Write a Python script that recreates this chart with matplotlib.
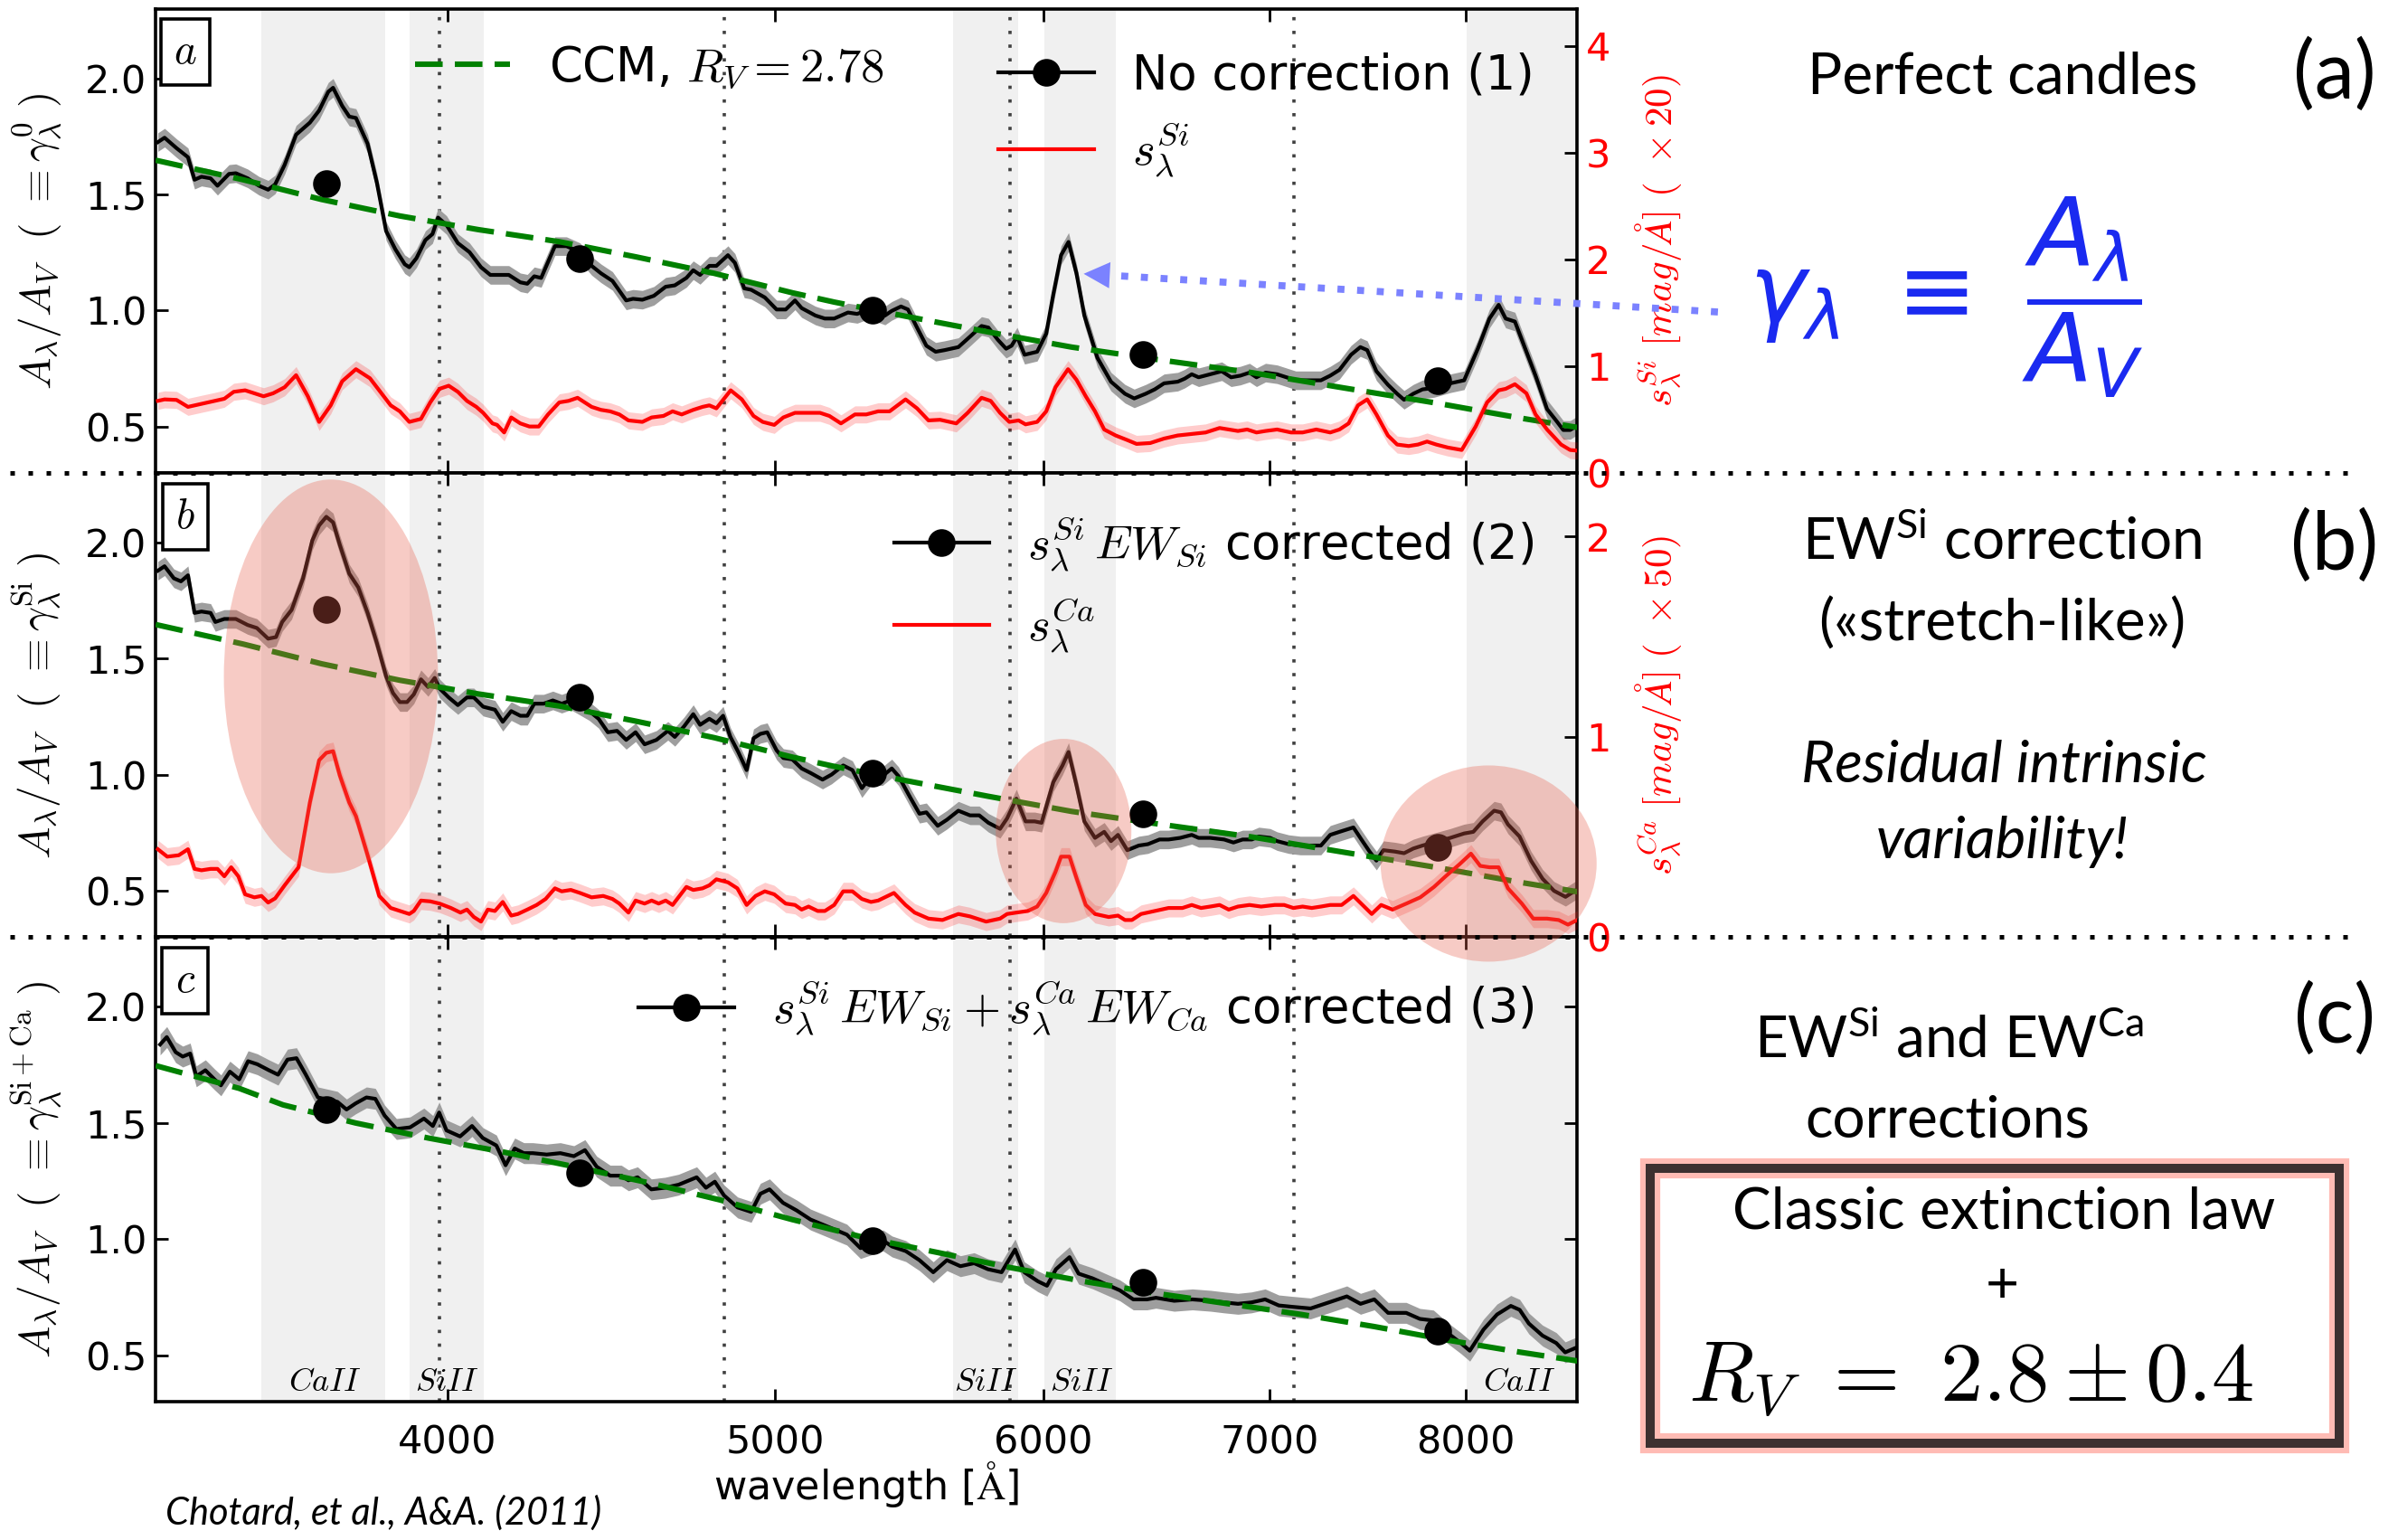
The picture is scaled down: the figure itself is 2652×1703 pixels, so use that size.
import matplotlib
matplotlib.use('Agg')
import numpy as np
import matplotlib.pyplot as plt
from matplotlib.lines import Line2D
from matplotlib.patches import Ellipse, Rectangle, FancyArrowPatch
from matplotlib.ticker import FixedLocator, FixedFormatter, NullLocator

plt.rcParams['font.family'] = ['DejaVu Sans']
plt.rcParams['mathtext.fontset'] = 'cm'
plt.rcParams['mathtext.rm'] = 'Lato'
plt.rcParams['mathtext.it'] = 'Lato:italic'

# ---------------- data (wavelength in Angstrom) ----------------
xticks = [4000, 5000, 6000, 7000, 8000]
yticks = [0.5, 1.0, 1.5, 2.0]
bands = [(3525, 3835), (3900, 4100), (5645, 5900), (6005, 6305), (8005, 8700)]
band_names = ['CaII', 'SiII', 'SiII', 'SiII', 'CaII']
band_label_wl = [3680, 4000, 5770, 6160, 8300]
vlines = [3980, 4830, 5865, 7115]

dot_wl = [3685, 4377, 5343, 6422, 7849]

# panel a : no correction
wl_a = [3285, 3300, 3327, 3353, 3368, 3384, 3405, 3421, 3448, 3464, 3492, 3519, 3541, 3558, 3581,
        3609, 3643, 3666, 3689, 3701, 3724, 3742, 3759, 3789, 3813, 3837, 3861, 3886, 3898, 3917,
        3941, 3960, 3975, 3998, 4029, 4061, 4093, 4119, 4145, 4171, 4204, 4224, 4244, 4264, 4304,
        4338, 4378, 4413, 4441, 4476, 4518, 4539, 4568, 4604, 4641, 4670, 4707, 4729, 4751, 4781,
        4804, 4842, 4865, 4896, 4919, 4965, 5005, 5036, 5068, 5091, 5139, 5172, 5205, 5254, 5287,
        5329, 5388, 5413, 5447, 5473, 5507, 5542, 5577, 5611, 5664, 5709, 5754, 5781, 5818, 5851,
        5873, 5895, 5925, 5976, 6013, 6042, 6074, 6105, 6138, 6171, 6226, 6284, 6344, 6384, 6434,
        6474, 6515, 6576, 6607, 6639, 6670, 6723, 6776, 6819, 6862, 6905, 6938, 6981, 7036, 7081,
        7126, 7170, 7249, 7295, 7341, 7399, 7446, 7481, 7528, 7587, 7635, 7671, 7719, 7768, 7829,
        7916, 7991, 8066, 8130, 8181, 8220, 8272, 8324, 8389, 8455, 8509, 8549, 8589, 8630]
gamma_a = [1.725, 1.744, 1.699, 1.660, 1.563, 1.576, 1.569, 1.537, 1.588, 1.591, 1.569, 1.537, 1.520,
           1.543, 1.627, 1.757, 1.809, 1.861, 1.942, 1.959, 1.881, 1.835, 1.829, 1.718, 1.550, 1.342,
           1.264, 1.199, 1.186, 1.225, 1.303, 1.329, 1.400, 1.368, 1.290, 1.251, 1.186, 1.153, 1.153,
           1.153, 1.121, 1.115, 1.147, 1.140, 1.277, 1.277, 1.251, 1.192, 1.160, 1.127, 1.043, 1.050,
           1.046, 1.063, 1.102, 1.108, 1.140, 1.173, 1.153, 1.192, 1.192, 1.238, 1.205, 1.095, 1.089,
           1.056, 1.004, 1.004, 1.043, 1.010, 0.978, 0.965, 0.965, 0.991, 0.985, 1.004, 0.978, 0.998,
           1.017, 1.004, 0.926, 0.848, 0.822, 0.829, 0.842, 0.887, 0.933, 0.926, 0.874, 0.835, 0.848,
           0.887, 0.809, 0.822, 0.900, 1.069, 1.238, 1.295, 1.160, 0.978, 0.796, 0.693, 0.641, 0.621,
           0.641, 0.660, 0.686, 0.693, 0.706, 0.725, 0.712, 0.725, 0.738, 0.712, 0.719, 0.732, 0.712,
           0.732, 0.725, 0.712, 0.699, 0.699, 0.699, 0.719, 0.744, 0.809, 0.842, 0.829, 0.738, 0.680,
           0.641, 0.615, 0.641, 0.660, 0.666, 0.686, 0.699, 0.835, 0.965, 1.024, 0.965, 0.952, 0.848,
           0.719, 0.575, 0.524, 0.485, 0.485, 0.504]
dots_a = [1.546, 1.225, 1.000, 0.809, 0.699]

wl_si = [3285, 3300, 3327, 3353, 3384, 3416, 3437, 3459, 3486, 3508, 3530, 3553, 3581, 3609, 3638,
         3666, 3695, 3724, 3759, 3795, 3825, 3849, 3873, 3898, 3929, 3954, 3979, 4004, 4029, 4054,
         4080, 4099, 4125, 4138, 4158, 4178, 4204, 4230, 4257, 4284, 4317, 4344, 4371, 4413, 4441,
         4469, 4497, 4525, 4568, 4597, 4634, 4663, 4692, 4729, 4759, 4781, 4804, 4851, 4888, 4927,
         4958, 4997, 5028, 5068, 5115, 5155, 5188, 5229, 5279, 5320, 5363, 5405, 5464, 5507, 5550,
         5594, 5656, 5700, 5754, 5790, 5827, 5864, 5901, 5929, 5976, 6013, 6051, 6103, 6138, 6177,
         6216, 6255, 6304, 6354, 6394, 6454, 6515, 6576, 6639, 6702, 6766, 6808, 6851, 6894, 6938,
         6981, 7036, 7103, 7159, 7226, 7295, 7341, 7387, 7434, 7481, 7528, 7587, 7635, 7695, 7744,
         7792, 7841, 7903, 7978, 8054, 8117, 8181, 8220, 8272, 8337, 8389, 8455, 8536, 8589, 8630]
s_si = [0.675, 0.689, 0.684, 0.619, 0.647, 0.675, 0.695, 0.760, 0.774, 0.746, 0.718, 0.746, 0.803,
        0.916, 0.718, 0.478, 0.633, 0.859, 0.972, 0.887, 0.746, 0.633, 0.577, 0.478, 0.506, 0.661,
        0.788, 0.817, 0.760, 0.675, 0.619, 0.563, 0.464, 0.450, 0.379, 0.520, 0.464, 0.435, 0.435,
        0.548, 0.661, 0.675, 0.704, 0.619, 0.591, 0.577, 0.548, 0.492, 0.478, 0.520, 0.534, 0.577,
        0.548, 0.591, 0.619, 0.633, 0.605, 0.774, 0.689, 0.534, 0.478, 0.450, 0.520, 0.563, 0.563,
        0.563, 0.534, 0.464, 0.548, 0.548, 0.577, 0.577, 0.689, 0.605, 0.492, 0.498, 0.464, 0.563,
        0.704, 0.675, 0.563, 0.478, 0.492, 0.455, 0.478, 0.577, 0.803, 0.972, 0.873, 0.718, 0.577,
        0.407, 0.351, 0.308, 0.272, 0.280, 0.322, 0.351, 0.365, 0.379, 0.421, 0.407, 0.393, 0.407,
        0.379, 0.393, 0.407, 0.379, 0.379, 0.407, 0.379, 0.407, 0.464, 0.633, 0.689, 0.548, 0.351,
        0.266, 0.252, 0.266, 0.294, 0.266, 0.238, 0.215, 0.435, 0.661, 0.774, 0.788, 0.831, 0.746,
        0.548, 0.407, 0.266, 0.215, 0.209]

ccm_wl = [3280, 3481, 3672, 3873, 4086, 4317, 4547, 4796, 5059, 5205, 5464, 5781, 6118, 6474,
          6916, 7364, 7841, 8298, 8640]
ccm_ab = [1.647, 1.563, 1.478, 1.407, 1.348, 1.296, 1.231, 1.160, 1.076, 1.036, 0.975, 0.907,
          0.842, 0.790, 0.732, 0.666, 0.601, 0.537, 0.495]

# panel b : Si corrected
wl_b = [3285, 3300, 3321, 3337, 3353, 3368, 3384, 3405, 3416, 3437, 3464, 3492, 3514, 3541, 3560,
        3575, 3598, 3626, 3649, 3666, 3684, 3701, 3718, 3742, 3765, 3789, 3813, 3837, 3855, 3873,
        3892, 3910, 3929, 3948, 3966, 3979, 4004, 4029, 4054, 4073, 4099, 4132, 4154, 4178, 4204,
        4224, 4244, 4271, 4298, 4324, 4351, 4406, 4434, 4462, 4490, 4518, 4547, 4575, 4612, 4648,
        4670, 4700, 4729, 4751, 4781, 4804, 4826, 4850, 4876, 4904, 4927, 4950, 4973, 5005, 5028,
        5059, 5091, 5123, 5164, 5196, 5237, 5270, 5304, 5337, 5379, 5413, 5438, 5481, 5516, 5542,
        5585, 5620, 5664, 5709, 5745, 5781, 5827, 5855, 5892, 5929, 5966, 5994, 6042, 6080, 6105,
        6138, 6171, 6216, 6255, 6284, 6314, 6354, 6404, 6444, 6495, 6535, 6587, 6639, 6670, 6723,
        6787, 6830, 6873, 6916, 6949, 7003, 7036, 7092, 7148, 7193, 7249, 7295, 7341, 7411, 7457,
        7493, 7528, 7564, 7623, 7671, 7719, 7768, 7916, 7991, 8041, 8092, 8156, 8194, 8233, 8298,
        8363, 8429, 8495, 8562, 8630]
gamma_b = [1.879, 1.898, 1.846, 1.833, 1.859, 1.697, 1.703, 1.697, 1.658, 1.671, 1.671, 1.645, 1.632,
           1.586, 1.593, 1.658, 1.710, 1.846, 2.009, 2.074, 2.111, 2.087, 1.990, 1.866, 1.807, 1.697,
           1.567, 1.424, 1.352, 1.313, 1.313, 1.346, 1.411, 1.378, 1.417, 1.372, 1.333, 1.300, 1.333,
           1.333, 1.293, 1.280, 1.228, 1.274, 1.254, 1.254, 1.306, 1.306, 1.320, 1.306, 1.320, 1.274,
           1.241, 1.183, 1.189, 1.150, 1.183, 1.131, 1.150, 1.189, 1.163, 1.209, 1.261, 1.215, 1.241,
           1.222, 1.254, 1.163, 1.098, 1.020, 1.157, 1.176, 1.183, 1.105, 1.072, 1.066, 1.027, 1.007,
           0.979, 1.001, 1.040, 1.020, 0.942, 0.994, 0.994, 1.027, 0.994, 0.903, 0.832, 0.838, 0.780,
           0.806, 0.845, 0.825, 0.825, 0.793, 0.767, 0.812, 0.897, 0.799, 0.799, 0.793, 0.968, 1.040,
           1.098, 0.955, 0.799, 0.728, 0.754, 0.714, 0.741, 0.675, 0.695, 0.701, 0.721, 0.721, 0.728,
           0.741, 0.728, 0.728, 0.721, 0.708, 0.721, 0.721, 0.734, 0.728, 0.714, 0.701, 0.695, 0.695,
           0.695, 0.741, 0.754, 0.773, 0.714, 0.669, 0.630, 0.675, 0.669, 0.662, 0.682, 0.695, 0.728,
           0.747, 0.754, 0.799, 0.845, 0.838, 0.786, 0.734, 0.630, 0.552, 0.500, 0.474, 0.506]
dots_b = [1.710, 1.333, 1.007, 0.832, 0.688]

wl_ca = [3285, 3306, 3332, 3353, 3368, 3384, 3405, 3421, 3437, 3453, 3470, 3486, 3508, 3525, 3541,
         3558, 3581, 3615, 3643, 3666, 3684, 3701, 3718, 3742, 3759, 3789, 3819, 3849, 3873, 3898,
         3910, 3929, 3954, 3979, 4010, 4036, 4054, 4073, 4093, 4112, 4132, 4154, 4178, 4197, 4224,
         4251, 4277, 4304, 4324, 4351, 4378, 4413, 4448, 4476, 4497, 4525, 4547, 4575, 4597, 4619,
         4641, 4663, 4707, 4729, 4759, 4781, 4804, 4842, 4873, 4904, 4934, 4965, 4997, 5036, 5068,
         5091, 5115, 5147, 5172, 5205, 5237, 5270, 5304, 5337, 5363, 5421, 5464, 5498, 5550, 5603,
         5664, 5709, 5772, 5827, 5855, 5892, 5938, 5976, 6013, 6051, 6074, 6109, 6138, 6177, 6216,
         6274, 6314, 6344, 6374, 6414, 6474, 6535, 6597, 6639, 6681, 6723, 6766, 6808, 6851, 6905,
         6960, 7025, 7070, 7114, 7159, 7204, 7249, 7295, 7352, 7411, 7457, 7504, 7552, 7611, 7683,
         7756, 7829, 7891, 7966, 8028, 8079, 8130, 8181, 8233, 8311, 8376, 8455, 8522, 8576, 8630]
s_ca = [0.439, 0.402, 0.409, 0.439, 0.341, 0.334, 0.341, 0.341, 0.304, 0.349, 0.304, 0.214, 0.199,
        0.206, 0.173, 0.194, 0.259, 0.349, 0.672, 0.883, 0.920, 0.928, 0.807, 0.672, 0.604, 0.409,
        0.206, 0.146, 0.131, 0.116, 0.131, 0.183, 0.179, 0.168, 0.146, 0.123, 0.138, 0.101, 0.078,
        0.138, 0.131, 0.176, 0.108, 0.116, 0.138, 0.161, 0.191, 0.244, 0.229, 0.236, 0.221, 0.199,
        0.206, 0.191, 0.168, 0.123, 0.183, 0.168, 0.183, 0.168, 0.183, 0.161, 0.251, 0.236, 0.244,
        0.259, 0.289, 0.274, 0.244, 0.161, 0.206, 0.229, 0.214, 0.168, 0.161, 0.138, 0.153, 0.131,
        0.131, 0.161, 0.229, 0.229, 0.191, 0.176, 0.183, 0.221, 0.161, 0.123, 0.093, 0.086, 0.116,
        0.104, 0.078, 0.093, 0.116, 0.123, 0.131, 0.153, 0.221, 0.326, 0.402, 0.402, 0.296, 0.161,
        0.116, 0.101, 0.108, 0.086, 0.086, 0.116, 0.131, 0.146, 0.146, 0.161, 0.146, 0.153, 0.161,
        0.138, 0.153, 0.161, 0.153, 0.161, 0.161, 0.146, 0.153, 0.146, 0.153, 0.161, 0.161, 0.206,
        0.161, 0.116, 0.161, 0.138, 0.168, 0.199, 0.251, 0.304, 0.364, 0.417, 0.356, 0.349, 0.349,
        0.244, 0.168, 0.093, 0.093, 0.086, 0.063, 0.086]

# panel c : Si + Ca corrected
wl_c = [3290, 3305, 3325, 3341, 3358, 3372, 3393, 3414, 3429, 3450, 3472, 3493, 3515, 3543, 3565,
        3588, 3610, 3633, 3663, 3712, 3735, 3758, 3786, 3809, 3833, 3864, 3900, 3937, 3961, 3978,
        3998, 4035, 4068, 4098, 4136, 4162, 4188, 4214, 4240, 4280, 4320, 4360, 4393, 4428, 4469,
        4503, 4525, 4553, 4596, 4639, 4682, 4740, 4770, 4799, 4829, 4874, 4919, 4950, 4981, 5027,
        5074, 5122, 5185, 5250, 5299, 5381, 5414, 5465, 5516, 5568, 5620, 5672, 5725, 5779, 5833,
        5887, 5924, 5979, 6016, 6053, 6109, 6147, 6205, 6263, 6322, 6380, 6440, 6479, 6560, 6642,
        6725, 6787, 6851, 6914, 6979, 7044, 7110, 7198, 7288, 7378, 7447, 7517, 7588, 7682, 7754,
        7826, 7899, 7973, 8022, 8097, 8172, 8249, 8299, 8351, 8429, 8508, 8560, 8624]
gamma_c = [1.838, 1.870, 1.805, 1.786, 1.799, 1.701, 1.727, 1.688, 1.662, 1.721, 1.688, 1.766, 1.753,
           1.727, 1.708, 1.773, 1.779, 1.708, 1.610, 1.591, 1.558, 1.584, 1.610, 1.604, 1.532, 1.474,
           1.481, 1.519, 1.487, 1.545, 1.468, 1.442, 1.487, 1.435, 1.403, 1.318, 1.390, 1.370, 1.370,
           1.364, 1.370, 1.357, 1.383, 1.312, 1.273, 1.273, 1.253, 1.266, 1.214, 1.221, 1.234, 1.266,
           1.221, 1.247, 1.188, 1.136, 1.117, 1.195, 1.214, 1.156, 1.123, 1.084, 1.052, 1.019, 0.961,
           0.994, 0.968, 0.948, 0.909, 0.857, 0.909, 0.883, 0.896, 0.870, 0.857, 0.955, 0.857, 0.818,
           0.799, 0.870, 0.922, 0.851, 0.831, 0.805, 0.779, 0.740, 0.740, 0.747, 0.734, 0.740, 0.734,
           0.727, 0.721, 0.727, 0.740, 0.714, 0.708, 0.701, 0.727, 0.753, 0.721, 0.740, 0.682, 0.682,
           0.656, 0.649, 0.597, 0.552, 0.519, 0.610, 0.675, 0.712, 0.695, 0.636, 0.584, 0.552, 0.512,
           0.532]
dots_c = [1.558, 1.286, 0.994, 0.812, 0.604]

ccm_c_wl = [3280, 3472, 3577, 3758, 3949, 4149, 4360, 4596, 4814, 5058, 5315, 5585, 5869, 6167,
            6479, 6808, 7154, 7517, 7899, 8299, 8640]
ccm_c = [1.747, 1.649, 1.578, 1.500, 1.435, 1.377, 1.312, 1.240, 1.169, 1.084, 1.006, 0.942, 0.877,
         0.818, 0.766, 0.721, 0.675, 0.623, 0.565, 0.513, 0.474]

# ---------------- figure ----------------
fig = plt.figure(figsize=(13.26, 8.515), dpi=200)
L, W, H = 0.0649, 0.5928, 0.3015
bottoms = [0.6929, 0.3914, 0.0899]

ylabels = [r'$A_\lambda/A_V\ \ (\ \equiv\gamma_\lambda^0\ )$',
           r'$A_\lambda/A_V\ \ (\ \equiv\gamma_\lambda^{\rm Si}\ )$',
           r'$A_\lambda/A_V\ \ (\ \equiv\gamma_\lambda^{\rm Si+Ca}\ )$']

GREEN_DASH = dict(color='green', lw=2.2, dashes=(5, 2.2))


def make_panel(bottom, letter, ylab, wl, g, gerr, dots, cwl, cv, last=False):
    ax = fig.add_axes([L, bottom, W, H])
    ax.set_xscale('log')
    ax.set_xlim(3280, 8630)
    ax.set_ylim(0.3, 2.3)
    ax.xaxis.set_major_locator(FixedLocator(xticks))
    ax.xaxis.set_minor_locator(NullLocator())
    ax.xaxis.set_major_formatter(FixedFormatter([str(t) for t in xticks]))
    ax.set_yticks(yticks)
    ax.set_yticklabels(['%.1f' % t for t in yticks])
    ax.tick_params(direction='in', top=True, right=last, length=5, width=1,
                   labelsize=15.5, labelbottom=last)
    ax.tick_params(axis='x', pad=9)
    for sp in ax.spines.values():
        sp.set_linewidth(1.3)
    for a, b in bands:
        ax.axvspan(a, b, color='0.94', lw=0, zorder=0)
    for x in vlines:
        ax.axvline(x, color='0.25', lw=1.3, ls=(0, (1, 3.2)), zorder=1)
    g = np.array(g)
    ax.fill_between(wl, g - gerr, g + gerr, color='0.62', lw=0, zorder=2)
    ax.plot(wl, g, color='k', lw=1.5, zorder=3)
    ax.plot(cwl, cv, zorder=4, **GREEN_DASH)
    ax.errorbar(dot_wl, dots, yerr=0.03, fmt='o', color='k', ms=10, capsize=3,
                elinewidth=1, zorder=5)
    ax.set_ylabel(ylab, fontsize=17)
    ax.yaxis.set_label_coords(-0.065, 0.5)
    ax.text(0.0207, 0.906, '$%s$' % letter, transform=ax.transAxes, ha='center', va='center',
            fontsize=17, zorder=6,
            bbox=dict(boxstyle='square,pad=0.3', fc='white', ec='k', lw=1.3))
    return ax


def red_axis(ax, wl, s, serr, top, ticks, ylab):
    ax2 = ax.twinx()
    s = np.array(s)
    ax2.fill_between(wl, s - serr, s + serr, color='red', alpha=0.2, lw=0)
    ax2.plot(wl, s, color='red', lw=1.5)
    ax2.set_ylim(0, top)
    ax2.set_yticks(ticks)
    ax2.set_yticklabels([str(t) for t in ticks])
    ax2.tick_params(direction='in', length=5, width=1, labelsize=15.5, labelcolor='red')
    for sp in ax2.spines.values():
        sp.set_visible(False)
    ax2.set_ylabel(ylab, fontsize=15.5, color='red', rotation=90)
    ax2.yaxis.set_label_coords(1.040, 0.5)
    return ax2


h_blk = Line2D([], [], color='k', lw=1.5, marker='o', ms=10)
h_red = Line2D([], [], color='red', lw=1.5)
h_ccm = Line2D([], [], **GREEN_DASH)

# panel a
axa = make_panel(bottoms[0], 'a', ylabels[0], wl_a, gamma_a, 0.04, dots_a, ccm_wl, ccm_ab)
axa2 = red_axis(axa, wl_si, s_si, 0.08, 4.35, [0, 1, 2, 3, 4],
                r'$s_\lambda^{Si}\ [mag/\AA]\ (\ \times 20)$')
leg = axa2.legend([h_ccm], [r'CCM, $R_V=2.78$'], loc='upper left', bbox_to_anchor=(0.169, 0.966),
                  frameon=False, fontsize=19, borderaxespad=0)
axa2.add_artist(leg)
axa2.legend([h_blk, h_red], ['No correction (1)', r'$s_\lambda^{Si}$'], loc='upper right',
            frameon=False, fontsize=19, numpoints=1)

# panel b
axb = make_panel(bottoms[1], 'b', ylabels[1], wl_b, gamma_b, 0.04, dots_b, ccm_wl, ccm_ab)
axb2 = red_axis(axb, wl_ca, s_ca, 0.045, 2.316, [0, 1, 2],
                r'$s_\lambda^{Ca}\ [mag/\AA]\ (\ \times 50)$')
axb2.legend([h_blk, h_red], [r'$s_\lambda^{Si}\,EW_{Si}$ corrected (2)', r'$s_\lambda^{Ca}$'],
            loc='upper right', frameon=False, fontsize=19, numpoints=1)

# panel c
axc = make_panel(bottoms[2], 'c', ylabels[2], wl_c, gamma_c, 0.045, dots_c, ccm_c_wl, ccm_c,
                 last=True)
axc.legend([h_blk], [r'$s_\lambda^{Si}\,EW_{Si}+s_\lambda^{Ca}\,EW_{Ca}$ corrected (3)'],
           loc='upper right', frameon=False, fontsize=19, numpoints=1)
axc.set_xlabel(r'wavelength [$\mathrm{\AA}$]', fontsize=16, labelpad=-1.5)
for x, name in zip(band_label_wl, band_names):
    axc.text(x, 0.01, '$%s$' % name, transform=axc.get_xaxis_transform(), ha='center',
             va='bottom', fontsize=13)

# highlight ellipses on panel b
for (cx, cy, ew, eh) in [(0.1233, 0.5618, 0.1506, 0.848), (0.6387, 0.2288, 0.0954, 0.397),
                         (0.9377, 0.1587, 0.152, 0.4226)]:
    fig.add_artist(Ellipse((cx, cy), ew, eh, transform=axb.transAxes, color='#e8604c',
                           alpha=0.32, lw=0, zorder=8))

# dotted separators between panels
for yb in bottoms[:2]:
    fig.add_artist(Line2D([0.004, 0.984], [yb, yb], transform=fig.transFigure, color='k',
                          lw=1.8, ls=(0, (1, 3)), zorder=10))

# blue arrow to the SiII peak
fig.add_artist(Line2D([0.7164, 0.4632], [0.7974, 0.8212], transform=fig.transFigure,
                      color='#7b82ff', lw=2.8, ls=(0, (1, 1.8)), zorder=10))
fig.add_artist(FancyArrowPatch((0.4650, 0.8211), (0.4519, 0.8222), transform=fig.transFigure,
                               arrowstyle='-|>', mutation_scale=26, color='#7b82ff', lw=0,
                               shrinkA=0, shrinkB=0, zorder=10))

# right-hand annotations
side = dict(family='Lato', ha='center', va='center', color='k')
fig.text(0.8352, 0.950, 'Perfect candles', fontsize=23, **side)
fig.text(0.9736, 0.951, '(a)', fontsize=32, **side)
fig.text(0.8115, 0.807, r'$\gamma_\lambda\ \equiv\ \dfrac{A_\lambda}{A_V}$', fontsize=38,
         color='#1a2af0', math_fontfamily='dejavusans', ha='center', va='center')
fig.text(0.835, 0.648, r'EW$^{\mathrm{Si}}$ correction', fontsize=23, math_fontfamily='custom',
         **side)
fig.text(0.835, 0.595, '(«stretch-like»)', fontsize=23, **side)
fig.text(0.9736, 0.645, '(b)', fontsize=32, **side)
fig.text(0.8356, 0.5027, 'Residual intrinsic', fontsize=23, style='italic', **side)
fig.text(0.835, 0.4533, 'variability!', fontsize=23, style='italic', **side)
fig.text(0.9736, 0.338, '(c)', fontsize=32, **side)
fig.text(0.8126, 0.3247, r'EW$^{\mathrm{Si}}$ and EW$^{\mathrm{Ca}}$', fontsize=23,
         math_fontfamily='custom', **side)
fig.text(0.8122, 0.272, 'corrections', fontsize=23, **side)

fig.add_artist(Rectangle((0.688, 0.0628), 0.2875, 0.1785, transform=fig.transFigure, fill=False,
                         ec='#ff6a5a', lw=8, alpha=0.45, zorder=9))
fig.add_artist(Rectangle((0.688, 0.0628), 0.2875, 0.1785, transform=fig.transFigure, fill=False,
                         ec='#3d3030', lw=3.6, zorder=10))
fig.text(0.8356, 0.2126, 'Classic extinction law', fontsize=23, **side)
fig.text(0.835, 0.1644, '+', fontsize=23, **side)
fig.text(0.822, 0.1057, r'$R_V\ =\ 2.8\pm0.4$', fontsize=34, ha='center', va='center')

fig.text(0.160, 0.0176, 'Chotard, et al., A&A. (2011)', family='Lato', style='italic',
         fontsize=15, ha='center', va='center')

fig.savefig('out.png', dpi=200)
